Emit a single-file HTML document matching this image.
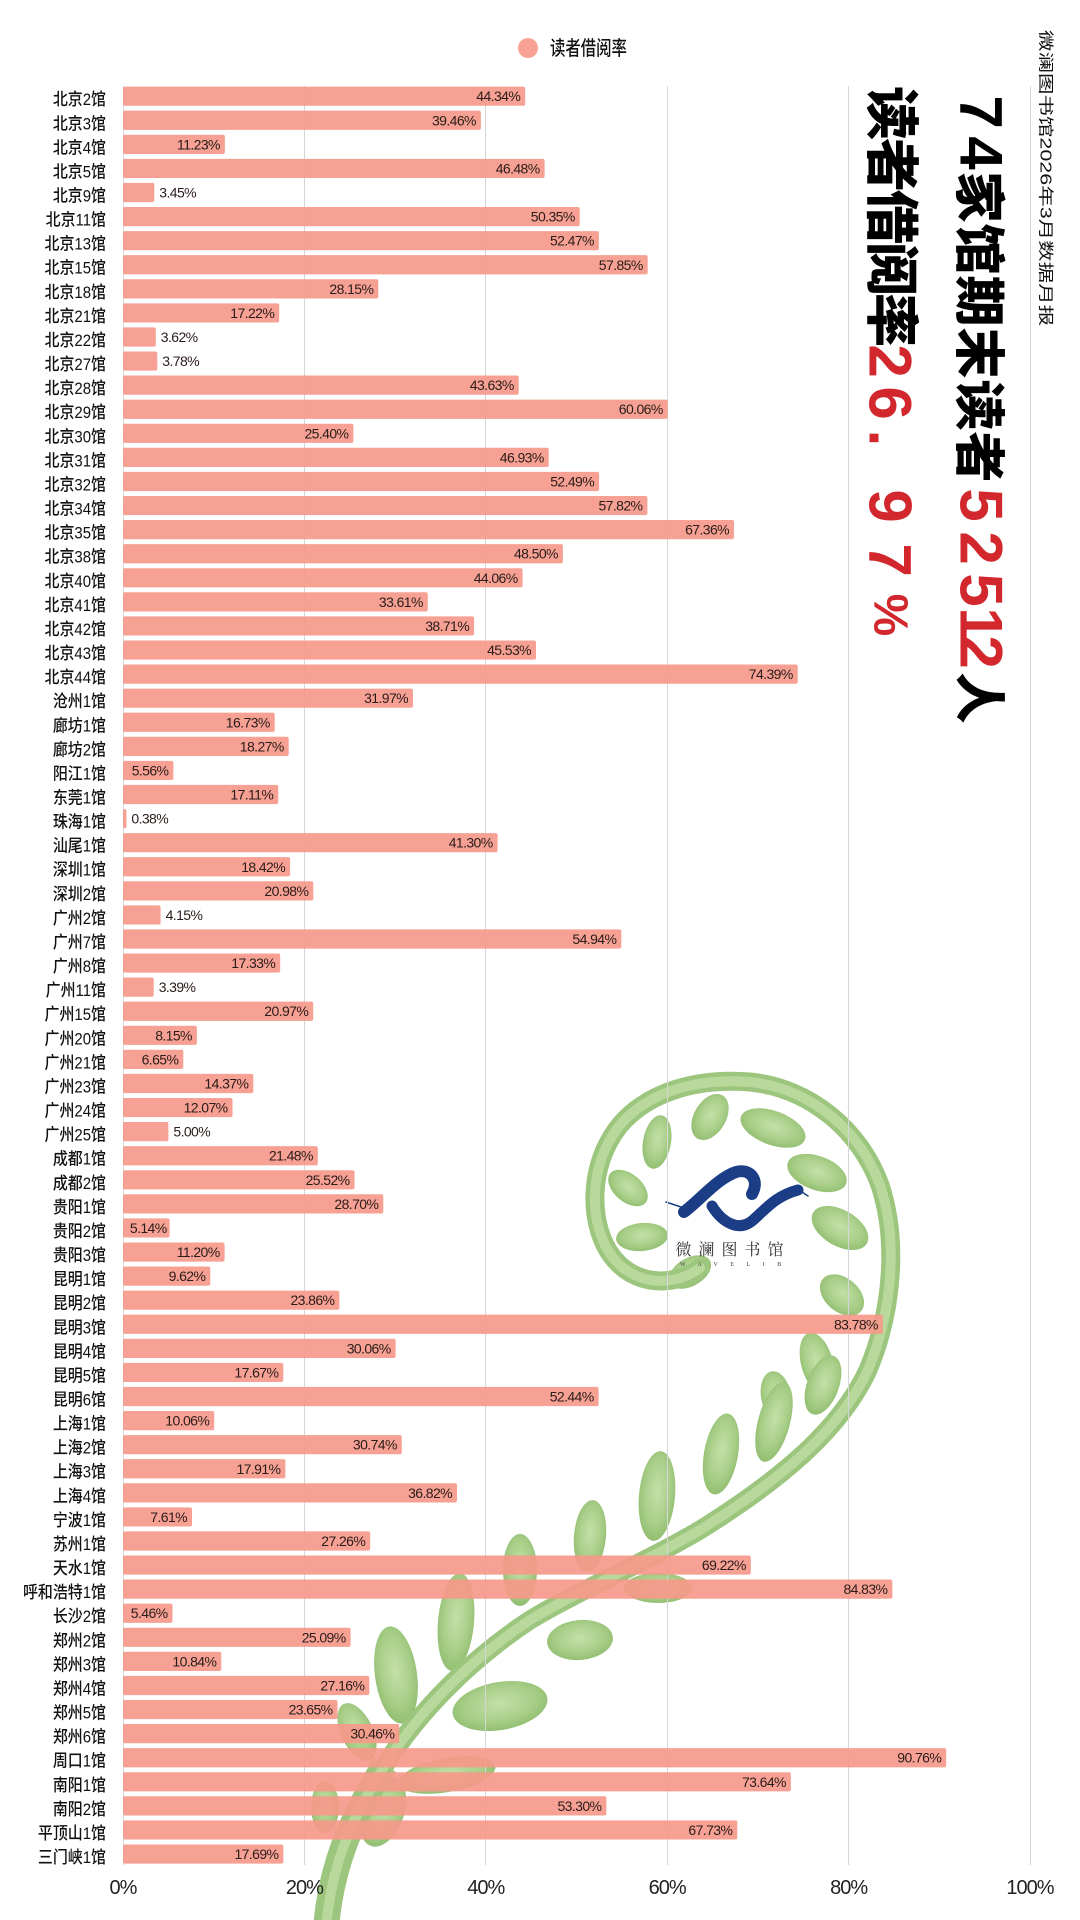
<!DOCTYPE html>
<html>
<head>
<meta charset="utf-8">
<style>
html,body{margin:0;padding:0;background:#fff;}
svg{display:block;}
.bars rect{fill:#f5998a;fill-opacity:.92;rx:2px;}
.bars text{font-family:"Liberation Sans",sans-serif;font-size:14px;letter-spacing:-0.6px;fill:#2a1c1a;}
.bars text.i{text-anchor:end;}
.bars text.o{text-anchor:start;}
.yl text{font-family:"Liberation Sans","Noto Sans CJK SC",sans-serif;font-size:17px;font-weight:500;fill:#111;text-anchor:end;}
.ax text{font-family:"Liberation Sans",sans-serif;font-size:20px;letter-spacing:-1px;fill:#222;text-anchor:middle;}
.t text{text-anchor:middle;dominant-baseline:central;}
.cj1{font-family:"Noto Sans CJK SC",sans-serif;font-weight:900;font-size:51px;fill:#000;}
.cj2{font-family:"Noto Sans CJK SC",sans-serif;font-weight:900;font-size:54px;fill:#000;}
.dg{font-family:"Liberation Sans",sans-serif;font-weight:bold;font-size:60px;}
.red{fill:#d2282d;}
.blk{fill:#000;}
</style>
</head>
<body>
<svg width="1080" height="1920" viewBox="0 0 1080 1920" xmlns="http://www.w3.org/2000/svg">
<defs>
<radialGradient id="lf" cx="50%" cy="45%" r="60%">
<stop offset="0" stop-color="#c4e0a9"/>
<stop offset="0.6" stop-color="#a8ce88"/>
<stop offset="1" stop-color="#8dbb6c"/>
</radialGradient>
</defs>
<rect width="1080" height="1920" fill="#fff"/>

<!-- fern -->
<g fill="url(#lf)">
<ellipse transform="translate(657,1142) rotate(10)" rx="14" ry="27"/>
<ellipse transform="translate(710,1117) rotate(30)" rx="16" ry="25"/>
<ellipse transform="translate(773,1128) rotate(20)" rx="34" ry="17"/>
<ellipse transform="translate(817,1173) rotate(20)" rx="31" ry="17"/>
<ellipse transform="translate(840,1228) rotate(30)" rx="31" ry="18"/>
<ellipse transform="translate(842,1295) rotate(40)" rx="25" ry="17"/>
<ellipse transform="translate(817,1363) rotate(-15)" rx="16" ry="31"/>
<ellipse transform="translate(776,1396) rotate(-10)" rx="15" ry="25"/>
<ellipse transform="translate(628,1188) rotate(40)" rx="23" ry="14"/>
<ellipse transform="translate(642,1237) rotate(-5)" rx="26" ry="14"/>
<ellipse transform="translate(690,1272) rotate(-30)" rx="23" ry="14"/>
<ellipse transform="translate(520,1570) rotate(0)" rx="17" ry="36"/>
<ellipse transform="translate(590,1536) rotate(5)" rx="16" ry="36"/>
<ellipse transform="translate(657,1496) rotate(5)" rx="18" ry="45"/>
<ellipse transform="translate(721,1454) rotate(10)" rx="17" ry="41"/>
<ellipse transform="translate(774,1422) rotate(15)" rx="16" ry="41"/>
<ellipse transform="translate(823,1385) rotate(20)" rx="16" ry="31"/>
<ellipse transform="translate(456,1622) rotate(5)" rx="18" ry="49"/>
<ellipse transform="translate(396,1675) rotate(-8)" rx="21" ry="49"/>
<ellipse transform="translate(357,1732) rotate(-25)" rx="16" ry="31"/>
<ellipse transform="translate(658,1588) rotate(0)" rx="34" ry="15"/>
<ellipse transform="translate(580,1640) rotate(-5)" rx="33" ry="20"/>
<ellipse transform="translate(500,1706) rotate(-10)" rx="48" ry="24"/>
<ellipse transform="translate(447,1775) rotate(-10)" rx="49" ry="17"/>
<ellipse transform="translate(325,1807) rotate(0)" rx="14" ry="26"/>
<ellipse transform="translate(383,1812) rotate(20)" rx="21" ry="36"/>
</g>
<path d="M 700 1268 C 670 1290, 625 1285, 605 1245 C 588 1210, 592 1160, 620 1125 C 650 1090, 700 1078, 750 1082 C 810 1088, 860 1130, 880 1185 C 898 1240, 893 1310, 868 1370 C 840 1430, 780 1480, 700 1530 C 640 1565, 580 1590, 530 1620 C 470 1660, 420 1710, 385 1765 C 350 1820, 330 1870, 326 1930" fill="none" stroke="#9cc57d" stroke-width="19" stroke-linecap="round"/>
<path d="M 385 1765 C 350 1820, 330 1870, 326 1930" fill="none" stroke="#9cc57d" stroke-width="26"/>
<path d="M 700 1268 C 670 1290, 625 1285, 605 1245 C 588 1210, 592 1160, 620 1125 C 650 1090, 700 1078, 750 1082 C 810 1088, 860 1130, 880 1185 C 898 1240, 893 1310, 868 1370 C 840 1430, 780 1480, 700 1530 C 640 1565, 580 1590, 530 1620 C 470 1660, 420 1710, 385 1765 C 350 1820, 330 1870, 326 1930" fill="none" stroke="#b9d89c" stroke-width="10" stroke-linecap="round"/>

<!-- logo -->
<g fill="none" stroke="#1b3d86" stroke-linecap="round">
<path d="M 684 1212 C 700 1200 718 1178 736 1172 C 750 1168 760 1180 752 1194" stroke-width="12"/>
<path d="M 712 1206 C 722 1222 738 1232 752 1221 C 765 1210 775 1196 798 1190" stroke-width="11"/>
<path d="M 666 1202 L 690 1210 M 796 1188 L 808 1196" stroke-width="1.5"/>
</g>
<text x="733" y="1255" text-anchor="middle" font-family="Noto Serif CJK SC, serif" font-size="16" letter-spacing="7" fill="#333">微澜图书馆</text>
<text x="680" y="1266" font-family="Liberation Serif, serif" font-size="6" letter-spacing="12.5" fill="#444">WAVELIB</text>

<!-- gridlines -->
<g stroke="#d6d6d6" stroke-width="1">
<line x1="123.5" y1="86" x2="123.5" y2="1865"/>
<line x1="304.5" y1="86" x2="304.5" y2="1865"/>
<line x1="485.5" y1="86" x2="485.5" y2="1865"/>
<line x1="667.5" y1="86" x2="667.5" y2="1865"/>
<line x1="848.5" y1="86" x2="848.5" y2="1865"/>
<line x1="1030.5" y1="86" x2="1030.5" y2="1865"/>
</g>

<!-- legend -->
<circle cx="528" cy="48" r="10" fill="#f6a193"/>
<text transform="translate(550,55) scale(0.77,1)" font-family="Noto Sans CJK SC, sans-serif" font-size="20" font-weight="500" fill="#111">读者借阅率</text>

<!-- bars -->
<g class="bars">
<g transform="translate(123,96.2)"><rect y="-9.6" width="402.2" height="19.2"/><text class="i" x="397.2" y="5">44.34%</text></g>
<g transform="translate(123,120.28)"><rect y="-9.6" width="357.9" height="19.2"/><text class="i" x="352.9" y="5">39.46%</text></g>
<g transform="translate(123,144.36)"><rect y="-9.6" width="101.9" height="19.2"/><text class="i" x="96.9" y="5">11.23%</text></g>
<g transform="translate(123,168.44)"><rect y="-9.6" width="421.6" height="19.2"/><text class="i" x="416.6" y="5">46.48%</text></g>
<g transform="translate(123,192.52)"><rect y="-9.6" width="31.3" height="19.2"/><text class="o" x="36.3" y="5">3.45%</text></g>
<g transform="translate(123,216.6)"><rect y="-9.6" width="456.7" height="19.2"/><text class="i" x="451.7" y="5">50.35%</text></g>
<g transform="translate(123,240.68)"><rect y="-9.6" width="475.9" height="19.2"/><text class="i" x="470.9" y="5">52.47%</text></g>
<g transform="translate(123,264.76)"><rect y="-9.6" width="524.7" height="19.2"/><text class="i" x="519.7" y="5">57.85%</text></g>
<g transform="translate(123,288.84)"><rect y="-9.6" width="255.3" height="19.2"/><text class="i" x="250.3" y="5">28.15%</text></g>
<g transform="translate(123,312.92)"><rect y="-9.6" width="156.2" height="19.2"/><text class="i" x="151.2" y="5">17.22%</text></g>
<g transform="translate(123,337)"><rect y="-9.6" width="32.8" height="19.2"/><text class="o" x="37.8" y="5">3.62%</text></g>
<g transform="translate(123,361.08)"><rect y="-9.6" width="34.3" height="19.2"/><text class="o" x="39.3" y="5">3.78%</text></g>
<g transform="translate(123,385.16)"><rect y="-9.6" width="395.7" height="19.2"/><text class="i" x="390.7" y="5">43.63%</text></g>
<g transform="translate(123,409.24)"><rect y="-9.6" width="544.7" height="19.2"/><text class="i" x="539.7" y="5">60.06%</text></g>
<g transform="translate(123,433.32)"><rect y="-9.6" width="230.4" height="19.2"/><text class="i" x="225.4" y="5">25.40%</text></g>
<g transform="translate(123,457.4)"><rect y="-9.6" width="425.7" height="19.2"/><text class="i" x="420.7" y="5">46.93%</text></g>
<g transform="translate(123,481.48)"><rect y="-9.6" width="476.1" height="19.2"/><text class="i" x="471.1" y="5">52.49%</text></g>
<g transform="translate(123,505.56)"><rect y="-9.6" width="524.4" height="19.2"/><text class="i" x="519.4" y="5">57.82%</text></g>
<g transform="translate(123,529.64)"><rect y="-9.6" width="611.0" height="19.2"/><text class="i" x="606.0" y="5">67.36%</text></g>
<g transform="translate(123,553.72)"><rect y="-9.6" width="439.9" height="19.2"/><text class="i" x="434.9" y="5">48.50%</text></g>
<g transform="translate(123,577.8)"><rect y="-9.6" width="399.6" height="19.2"/><text class="i" x="394.6" y="5">44.06%</text></g>
<g transform="translate(123,601.88)"><rect y="-9.6" width="304.8" height="19.2"/><text class="i" x="299.8" y="5">33.61%</text></g>
<g transform="translate(123,625.96)"><rect y="-9.6" width="351.1" height="19.2"/><text class="i" x="346.1" y="5">38.71%</text></g>
<g transform="translate(123,650.04)"><rect y="-9.6" width="413.0" height="19.2"/><text class="i" x="408.0" y="5">45.53%</text></g>
<g transform="translate(123,674.12)"><rect y="-9.6" width="674.7" height="19.2"/><text class="i" x="669.7" y="5">74.39%</text></g>
<g transform="translate(123,698.2)"><rect y="-9.6" width="290.0" height="19.2"/><text class="i" x="285.0" y="5">31.97%</text></g>
<g transform="translate(123,722.28)"><rect y="-9.6" width="151.7" height="19.2"/><text class="i" x="146.7" y="5">16.73%</text></g>
<g transform="translate(123,746.36)"><rect y="-9.6" width="165.7" height="19.2"/><text class="i" x="160.7" y="5">18.27%</text></g>
<g transform="translate(123,770.44)"><rect y="-9.6" width="50.4" height="19.2"/><text class="i" x="45.4" y="5">5.56%</text></g>
<g transform="translate(123,794.52)"><rect y="-9.6" width="155.2" height="19.2"/><text class="i" x="150.2" y="5">17.11%</text></g>
<g transform="translate(123,818.6)"><rect y="-9.6" width="3.4" height="19.2"/><text class="o" x="8.4" y="5">0.38%</text></g>
<g transform="translate(123,842.68)"><rect y="-9.6" width="374.6" height="19.2"/><text class="i" x="369.6" y="5">41.30%</text></g>
<g transform="translate(123,866.76)"><rect y="-9.6" width="167.1" height="19.2"/><text class="i" x="162.1" y="5">18.42%</text></g>
<g transform="translate(123,890.84)"><rect y="-9.6" width="190.3" height="19.2"/><text class="i" x="185.3" y="5">20.98%</text></g>
<g transform="translate(123,914.92)"><rect y="-9.6" width="37.6" height="19.2"/><text class="o" x="42.6" y="5">4.15%</text></g>
<g transform="translate(123,939)"><rect y="-9.6" width="498.3" height="19.2"/><text class="i" x="493.3" y="5">54.94%</text></g>
<g transform="translate(123,963.08)"><rect y="-9.6" width="157.2" height="19.2"/><text class="i" x="152.2" y="5">17.33%</text></g>
<g transform="translate(123,987.16)"><rect y="-9.6" width="30.7" height="19.2"/><text class="o" x="35.7" y="5">3.39%</text></g>
<g transform="translate(123,1011.24)"><rect y="-9.6" width="190.2" height="19.2"/><text class="i" x="185.2" y="5">20.97%</text></g>
<g transform="translate(123,1035.32)"><rect y="-9.6" width="73.9" height="19.2"/><text class="i" x="68.9" y="5">8.15%</text></g>
<g transform="translate(123,1059.4)"><rect y="-9.6" width="60.3" height="19.2"/><text class="i" x="55.3" y="5">6.65%</text></g>
<g transform="translate(123,1083.48)"><rect y="-9.6" width="130.3" height="19.2"/><text class="i" x="125.3" y="5">14.37%</text></g>
<g transform="translate(123,1107.56)"><rect y="-9.6" width="109.5" height="19.2"/><text class="i" x="104.5" y="5">12.07%</text></g>
<g transform="translate(123,1131.64)"><rect y="-9.6" width="45.4" height="19.2"/><text class="o" x="50.4" y="5">5.00%</text></g>
<g transform="translate(123,1155.72)"><rect y="-9.6" width="194.8" height="19.2"/><text class="i" x="189.8" y="5">21.48%</text></g>
<g transform="translate(123,1179.8)"><rect y="-9.6" width="231.5" height="19.2"/><text class="i" x="226.5" y="5">25.52%</text></g>
<g transform="translate(123,1203.88)"><rect y="-9.6" width="260.3" height="19.2"/><text class="i" x="255.3" y="5">28.70%</text></g>
<g transform="translate(123,1227.96)"><rect y="-9.6" width="46.6" height="19.2"/><text class="i" x="43.6" y="5">5.14%</text></g>
<g transform="translate(123,1252.04)"><rect y="-9.6" width="101.6" height="19.2"/><text class="i" x="96.6" y="5">11.20%</text></g>
<g transform="translate(123,1276.12)"><rect y="-9.6" width="87.3" height="19.2"/><text class="i" x="82.3" y="5">9.62%</text></g>
<g transform="translate(123,1300.2)"><rect y="-9.6" width="216.4" height="19.2"/><text class="i" x="211.4" y="5">23.86%</text></g>
<g transform="translate(123,1324.28)"><rect y="-9.6" width="759.9" height="19.2"/><text class="i" x="754.9" y="5">83.78%</text></g>
<g transform="translate(123,1348.36)"><rect y="-9.6" width="272.6" height="19.2"/><text class="i" x="267.6" y="5">30.06%</text></g>
<g transform="translate(123,1372.44)"><rect y="-9.6" width="160.3" height="19.2"/><text class="i" x="155.3" y="5">17.67%</text></g>
<g transform="translate(123,1396.52)"><rect y="-9.6" width="475.6" height="19.2"/><text class="i" x="470.6" y="5">52.44%</text></g>
<g transform="translate(123,1420.6)"><rect y="-9.6" width="91.2" height="19.2"/><text class="i" x="86.2" y="5">10.06%</text></g>
<g transform="translate(123,1444.68)"><rect y="-9.6" width="278.8" height="19.2"/><text class="i" x="273.8" y="5">30.74%</text></g>
<g transform="translate(123,1468.76)"><rect y="-9.6" width="162.4" height="19.2"/><text class="i" x="157.4" y="5">17.91%</text></g>
<g transform="translate(123,1492.84)"><rect y="-9.6" width="334.0" height="19.2"/><text class="i" x="329.0" y="5">36.82%</text></g>
<g transform="translate(123,1516.92)"><rect y="-9.6" width="69.0" height="19.2"/><text class="i" x="64.0" y="5">7.61%</text></g>
<g transform="translate(123,1541)"><rect y="-9.6" width="247.2" height="19.2"/><text class="i" x="242.2" y="5">27.26%</text></g>
<g transform="translate(123,1565.08)"><rect y="-9.6" width="627.8" height="19.2"/><text class="i" x="622.8" y="5">69.22%</text></g>
<g transform="translate(123,1589.16)"><rect y="-9.6" width="769.4" height="19.2"/><text class="i" x="764.4" y="5">84.83%</text></g>
<g transform="translate(123,1613.24)"><rect y="-9.6" width="49.5" height="19.2"/><text class="i" x="44.5" y="5">5.46%</text></g>
<g transform="translate(123,1637.32)"><rect y="-9.6" width="227.6" height="19.2"/><text class="i" x="222.6" y="5">25.09%</text></g>
<g transform="translate(123,1661.4)"><rect y="-9.6" width="98.3" height="19.2"/><text class="i" x="93.3" y="5">10.84%</text></g>
<g transform="translate(123,1685.48)"><rect y="-9.6" width="246.3" height="19.2"/><text class="i" x="241.3" y="5">27.16%</text></g>
<g transform="translate(123,1709.56)"><rect y="-9.6" width="214.5" height="19.2"/><text class="i" x="209.5" y="5">23.65%</text></g>
<g transform="translate(123,1733.64)"><rect y="-9.6" width="276.3" height="19.2"/><text class="i" x="271.3" y="5">30.46%</text></g>
<g transform="translate(123,1757.72)"><rect y="-9.6" width="823.2" height="19.2"/><text class="i" x="818.2" y="5">90.76%</text></g>
<g transform="translate(123,1781.8)"><rect y="-9.6" width="667.9" height="19.2"/><text class="i" x="662.9" y="5">73.64%</text></g>
<g transform="translate(123,1805.88)"><rect y="-9.6" width="483.4" height="19.2"/><text class="i" x="478.4" y="5">53.30%</text></g>
<g transform="translate(123,1829.96)"><rect y="-9.6" width="614.3" height="19.2"/><text class="i" x="609.3" y="5">67.73%</text></g>
<g transform="translate(123,1854.04)"><rect y="-9.6" width="160.4" height="19.2"/><text class="i" x="155.4" y="5">17.69%</text></g>
</g>

<!-- y labels -->
<g class="yl" transform="translate(106,0) scale(0.88,1)">
<text x="0" y="105.2">北京2馆</text>
<text x="0" y="129.28">北京3馆</text>
<text x="0" y="153.36">北京4馆</text>
<text x="0" y="177.44">北京5馆</text>
<text x="0" y="201.52">北京9馆</text>
<text x="0" y="225.6">北京11馆</text>
<text x="0" y="249.68">北京13馆</text>
<text x="0" y="273.76">北京15馆</text>
<text x="0" y="297.84">北京18馆</text>
<text x="0" y="321.92">北京21馆</text>
<text x="0" y="346">北京22馆</text>
<text x="0" y="370.08">北京27馆</text>
<text x="0" y="394.16">北京28馆</text>
<text x="0" y="418.24">北京29馆</text>
<text x="0" y="442.32">北京30馆</text>
<text x="0" y="466.4">北京31馆</text>
<text x="0" y="490.48">北京32馆</text>
<text x="0" y="514.56">北京34馆</text>
<text x="0" y="538.64">北京35馆</text>
<text x="0" y="562.72">北京38馆</text>
<text x="0" y="586.8">北京40馆</text>
<text x="0" y="610.88">北京41馆</text>
<text x="0" y="634.96">北京42馆</text>
<text x="0" y="659.04">北京43馆</text>
<text x="0" y="683.12">北京44馆</text>
<text x="0" y="707.2">沧州1馆</text>
<text x="0" y="731.28">廊坊1馆</text>
<text x="0" y="755.36">廊坊2馆</text>
<text x="0" y="779.44">阳江1馆</text>
<text x="0" y="803.52">东莞1馆</text>
<text x="0" y="827.6">珠海1馆</text>
<text x="0" y="851.68">汕尾1馆</text>
<text x="0" y="875.76">深圳1馆</text>
<text x="0" y="899.84">深圳2馆</text>
<text x="0" y="923.92">广州2馆</text>
<text x="0" y="948">广州7馆</text>
<text x="0" y="972.08">广州8馆</text>
<text x="0" y="996.16">广州11馆</text>
<text x="0" y="1020.24">广州15馆</text>
<text x="0" y="1044.32">广州20馆</text>
<text x="0" y="1068.4">广州21馆</text>
<text x="0" y="1092.48">广州23馆</text>
<text x="0" y="1116.56">广州24馆</text>
<text x="0" y="1140.64">广州25馆</text>
<text x="0" y="1164.72">成都1馆</text>
<text x="0" y="1188.8">成都2馆</text>
<text x="0" y="1212.88">贵阳1馆</text>
<text x="0" y="1236.96">贵阳2馆</text>
<text x="0" y="1261.04">贵阳3馆</text>
<text x="0" y="1285.12">昆明1馆</text>
<text x="0" y="1309.2">昆明2馆</text>
<text x="0" y="1333.28">昆明3馆</text>
<text x="0" y="1357.36">昆明4馆</text>
<text x="0" y="1381.44">昆明5馆</text>
<text x="0" y="1405.52">昆明6馆</text>
<text x="0" y="1429.6">上海1馆</text>
<text x="0" y="1453.68">上海2馆</text>
<text x="0" y="1477.76">上海3馆</text>
<text x="0" y="1501.84">上海4馆</text>
<text x="0" y="1525.92">宁波1馆</text>
<text x="0" y="1550">苏州1馆</text>
<text x="0" y="1574.08">天水1馆</text>
<text x="0" y="1598.16">呼和浩特1馆</text>
<text x="0" y="1622.24">长沙2馆</text>
<text x="0" y="1646.32">郑州2馆</text>
<text x="0" y="1670.4">郑州3馆</text>
<text x="0" y="1694.48">郑州4馆</text>
<text x="0" y="1718.56">郑州5馆</text>
<text x="0" y="1742.64">郑州6馆</text>
<text x="0" y="1766.72">周口1馆</text>
<text x="0" y="1790.8">南阳1馆</text>
<text x="0" y="1814.88">南阳2馆</text>
<text x="0" y="1838.96">平顶山1馆</text>
<text x="0" y="1863.04">三门峡1馆</text>
</g>

<!-- x axis labels -->
<g class="ax">
<text x="123" y="1894">0%</text>
<text x="304.4" y="1894">20%</text>
<text x="485.8" y="1894">40%</text>
<text x="667.2" y="1894">60%</text>
<text x="848.6" y="1894">80%</text>
<text x="1030" y="1894">100%</text>
</g>

<!-- vertical title column 1 -->
<g class="t">
<text class="dg blk" transform="translate(981,112) rotate(90)">7</text>
<text class="dg blk" transform="translate(981,153) rotate(90)">4</text>
<text class="cj1" transform="translate(983,197) rotate(90)">家</text>
<text class="cj1" transform="translate(983,249) rotate(90)">馆</text>
<text class="cj1" transform="translate(983,301) rotate(90)">期</text>
<text class="cj1" transform="translate(983,353) rotate(90)">末</text>
<text class="cj1" transform="translate(983,405) rotate(90)">读</text>
<text class="cj1" transform="translate(983,457) rotate(90)">者</text>
<text class="dg red" transform="translate(981,505) rotate(90)">5</text>
<text class="dg red" transform="translate(981,548) rotate(90)">2</text>
<text class="dg red" transform="translate(981,590) rotate(90)">5</text>
<text class="dg red" transform="translate(981,624) rotate(90)">1</text>
<text class="dg red" transform="translate(981,652) rotate(90)">2</text>
<text class="cj1" transform="translate(983,698) rotate(90)">人</text>
</g>

<!-- vertical title column 2 -->
<g class="t">
<text class="cj2" transform="translate(896,113) rotate(90)">读</text>
<text class="cj2" transform="translate(896,165) rotate(90)">者</text>
<text class="cj2" transform="translate(896,217) rotate(90)">借</text>
<text class="cj2" transform="translate(896,269) rotate(90)">阅</text>
<text class="cj2" transform="translate(896,320) rotate(90)">率</text>
<text class="dg red" transform="translate(890,361) rotate(90)">2</text>
<text class="dg red" transform="translate(890,403) rotate(90)">6</text>
<text class="dg red" transform="translate(890,438) rotate(90)">.</text>
<text class="dg red" transform="translate(890,506) rotate(90)">9</text>
<text class="dg red" transform="translate(890,560) rotate(90)">7</text>
<text class="dg red" style="font-size:48px" transform="translate(890,615) rotate(90)">%</text>
</g>

<!-- vertical small column -->
<text transform="translate(1046,30) rotate(90) scale(1,0.72)" dominant-baseline="central" font-family="Liberation Sans, Noto Sans CJK SC, sans-serif" font-size="21.5" fill="#111">微澜图书馆2026年3月数据月报</text>
</svg>
</body>
</html>
